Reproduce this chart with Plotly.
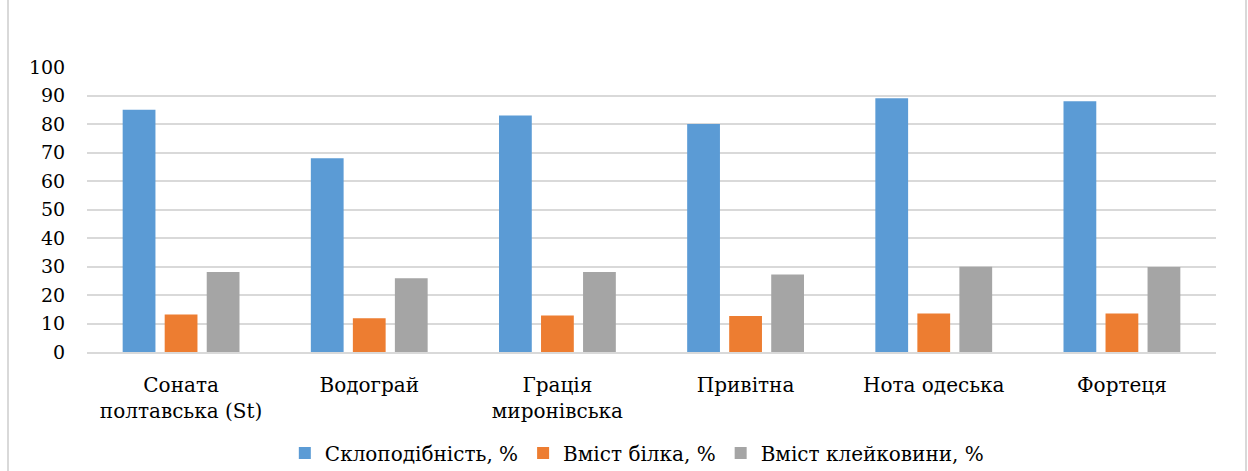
import plotly.graph_objects as go

# Winter wheat varieties and their grain quality indicators
varieties = ["Соната<br>полтавська (St)", "Водограй", "Грація<br>миронівська",
             "Привітна", "Нота одеська", "Фортеця"]
vitreousness = [85, 68, 83, 80, 89, 88]
protein = [13.2, 11.8, 12.8, 12.6, 13.5, 13.5]
gluten = [28.1, 25.9, 28.1, 27.2, 29.9, 29.8]

series_names = ["Склоподібність, %", "Вміст білка, %", "Вміст клейковини, %"]
y_ticks = [0, 10, 20, 30, 40, 50, 60, 70, 80, 90, 100]

colors = ["#5b9bd5", "#ed7d31", "#a5a5a5"]
font_family = "DejaVu Serif"

W, H = 1248, 471
ml, mr, mt, mb = 87, 32, 67, 119

fig = go.Figure()
for name, vals, col in zip(series_names, [vitreousness, protein, gluten], colors):
    fig.add_trace(go.Bar(x=varieties, y=vals, name=name,
                         marker=dict(color=col, line=dict(width=0))))

pw = W - ml - mr
ph = H - mt - mb
# light frame around the whole chart area
fig.add_shape(type="rect", xref="paper", yref="paper",
              x0=(8 - ml) / pw, x1=(1246 - ml) / pw,
              y0=-(H + 20 - mt - ph) / ph, y1=(H - mt - 10) / ph,
              line=dict(color="#d9d9d9", width=2), fillcolor="rgba(0,0,0,0)",
              layer="below")

fig.update_layout(
    width=W, height=H,
    margin=dict(l=ml, r=mr, t=mt, b=mb, autoexpand=False),
    paper_bgcolor="white", plot_bgcolor="white",
    barmode="group", bargap=0.33, bargroupgap=0.22,
    font=dict(family=font_family, size=20, color="black"),
    showlegend=True,
    legend=dict(orientation="h", x=0.487, xanchor="center",
                y=-(453 - 352) / ph, yanchor="middle",
                font=dict(size=20, family=font_family), itemwidth=30,
                traceorder="normal", itemclick=False),
    xaxis=dict(showline=True, linecolor="#d9d9d9", linewidth=1.5,
               tickfont=dict(size=20, family=font_family), ticks="outside",
               ticklen=14, tickcolor="rgba(0,0,0,0)", automargin=False),
    yaxis=dict(range=[0, 100], tickvals=y_ticks, showgrid=True,
               gridcolor="#d9d9d9", gridwidth=1.5, zeroline=False,
               tickfont=dict(size=19, family=font_family), ticks="outside",
               ticklen=17, tickcolor="rgba(0,0,0,0)", automargin=False),
)

fig.write_html("out.html")
